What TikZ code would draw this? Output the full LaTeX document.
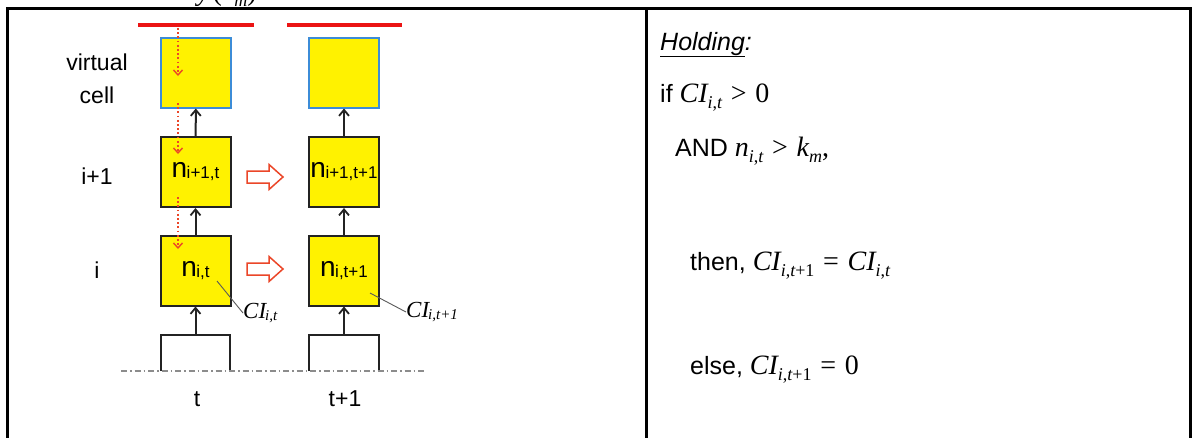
\documentclass[tikz,border=0pt]{standalone}
\usepackage{fontspec}
\setmainfont{Liberation Sans}
\newfontfamily\timesf{Liberation Serif}
\usetikzlibrary{arrows.meta}
\definecolor{cellblue}{RGB}{60,140,215}
\definecolor{redline}{RGB}{235,20,20}
\definecolor{reddot}{RGB}{235,70,40}
\definecolor{darkbox}{RGB}{35,35,35}
\newcommand{\nlab}[1]{{\fontsize{28}{28}\selectfont n}\kern-0.5pt\raisebox{-1pt}{\fontsize{17}{17}\selectfont #1}}
\newcommand{\cilab}[1]{{\timesf\itshape\fontsize{23}{23}\selectfont CI}\kern-1pt\raisebox{-2pt}{\timesf\itshape\fontsize{15}{15}\selectfont #1}}
% hand-set math in a serif italic
\newcommand{\mv}[1]{{\fontsize{28}{28}\timesf\itshape\selectfont #1}}
\newcommand{\mup}[1]{{\fontsize{28}{28}\timesf\selectfont #1}}
\newcommand{\msub}[1]{\raisebox{-6pt}{\fontsize{18}{18}\timesf\selectfont #1}}
\newcommand{\sv}[1]{{\itshape #1}}
\newcommand{\mrel}[1]{\hspace{0.35em}\mup{#1}\hspace{0.35em}}
\newcommand{\itsub}{\sv{i},\sv{t}}
\begin{document}
\begin{tikzpicture}[x=1pt,y=-1pt,
  cell/.style={draw=darkbox, line width=2, fill=yellow, minimum width=70, minimum height=70, inner sep=0},
  vcell/.style={cell, draw=cellblue},
  lbl/.style={font=\fontsize{23}{33}\selectfont, inner sep=0},
  rtext/.style={font=\fontsize{25}{28}\selectfont, anchor=base west, inner sep=0},
  blk/.style={draw=darkbox, line width=2, -{Straight Barb[length=6pt,width=10pt,line width=1.8pt]}},
  reddash/.style={draw=reddot, line width=1.6, dash pattern=on 1.8pt off 2.4pt, -{Straight Barb[length=5pt,width=9pt,line width=1.4pt]}},
  redbar/.style={draw=redline, line width=4.5},
  hollow/.style={draw=reddot, line width=1.5, fill=white, line join=miter},
  frame/.style={draw=black, line width=3},
  leader/.style={draw=black!65, line width=0.9},
  base/.style={draw=black!45, line width=1.1, dash pattern=on 6pt off 3pt on 1.5pt off 3pt}
]
\useasboundingbox (0,0) rectangle (1196,437);
\clip (0,0) rectangle (1196,437);
\fill[white] (0,0) rectangle (1196,437);

% partly visible caption above the frame
\node[anchor=base, inner sep=0] (cap) at (227,0)
  {\mv{y}\ \mup{(}\mv{k}\msub{\sv{m}}\mup{)}};

% frame
\draw[frame] (7,440) -- (7,8) -- (1190,8) -- (1190,440);
\draw[frame] (646,8) -- (646,440);

% red bars
\draw[redbar] (138,25) -- (254,25);
\draw[redbar] (287,25) -- (402,25);

% cells
\node[vcell] (v0) at (196,72.5) {};
\node[vcell] (v1) at (344,72.5) {};
\node[cell] (a1) at (195.5,172) {\nlab{i+1,t}};
\node[cell] (b1) at (344,172) {\nlab{i+1,t+1}};
\node[cell] (a0) at (195.5,270.5) {\nlab{i,t}};
\node[cell] (b0) at (344,270.5) {\nlab{i,t+1}};

% brackets at the bottom
\coordinate (ka) at (195.5,335);
\coordinate (kb) at (344,335);
\draw[draw=darkbox, line width=2] (161,371) -- (161,335) -- (230,335) -- (230,371);
\draw[draw=darkbox, line width=2] (309,371) -- (309,335) -- (379,335) -- (379,371);
\draw[base] (121,371) -- (427,371);

% black arrows
\draw[blk] (ka) -- (a0);
\draw[blk] (a0) -- (a1);
\draw[blk] (a1) -- (v0);
\draw[blk] (kb) -- (b0);
\draw[blk] (b0) -- (b1);
\draw[blk] (b1) -- (v1);

% red dotted arrows
\coordinate (r1s) at (178,28);  \coordinate (r1e) at (178,76);
\coordinate (r2s) at (178,103); \coordinate (r2e) at (178,154);
\coordinate (r3s) at (178,197); \coordinate (r3e) at (178,249);
\draw[reddash] (r1s) -- (r1e);
\draw[reddash] (r2s) -- (r2e);
\draw[reddash] (r3s) -- (r3e);

% hollow arrows
\draw[hollow, shift={(265,177)}] (-18,-6) -- (4,-6) -- (4,-12.5) -- (18,0) -- (4,12.5) -- (4,6) -- (-18,6) -- cycle;
\draw[hollow, shift={(265,269)}] (-18,-6) -- (4,-6) -- (4,-12.5) -- (18,0) -- (4,12.5) -- (4,6) -- (-18,6) -- cycle;

% CI labels
\node[anchor=west, inner sep=0] (ci0) at (243,313) {\cilab{i,t}};
\node[anchor=west, inner sep=0] (ci1) at (406,312) {\cilab{i,t+1}};
\coordinate (p0) at (217,281);
\coordinate (p1) at (370,293);
\draw[leader] (p0) -- (ci0.west);
\draw[leader] (p1) -- (ci1.west);

% left labels
\node[lbl, align=center] (lvc) at (97,79) {virtual\\cell};
\node[lbl] (li1) at (97,176) {i+1};
\node[lbl] (li) at (97,270) {i};
\node[lbl] (lt) at (197,399) {t};
\node[lbl] (lt1) at (345,399) {t+1};

% right panel
\node[rtext] (hold) at (660,50) {\itshape\underline{Holding}:};
\node[rtext] (ifl) at (660,102) {if \mv{CI}\msub{\itsub}\mrel{>}\mup{0}};
\node[rtext] (andl) at (675,156) {AND \mv{n}\msub{\itsub}\mrel{>}\mv{k}\msub{\sv{m}}\mup{,}};
\node[rtext] (thenl) at (690,270) {then, \mv{CI}\msub{\itsub+1}\mrel{=}\mv{CI}\msub{\itsub}};
\node[rtext] (elsel) at (690,374) {else, \mv{CI}\msub{\itsub+1}\mrel{=}\mup{0}};
\end{tikzpicture}
\end{document}
